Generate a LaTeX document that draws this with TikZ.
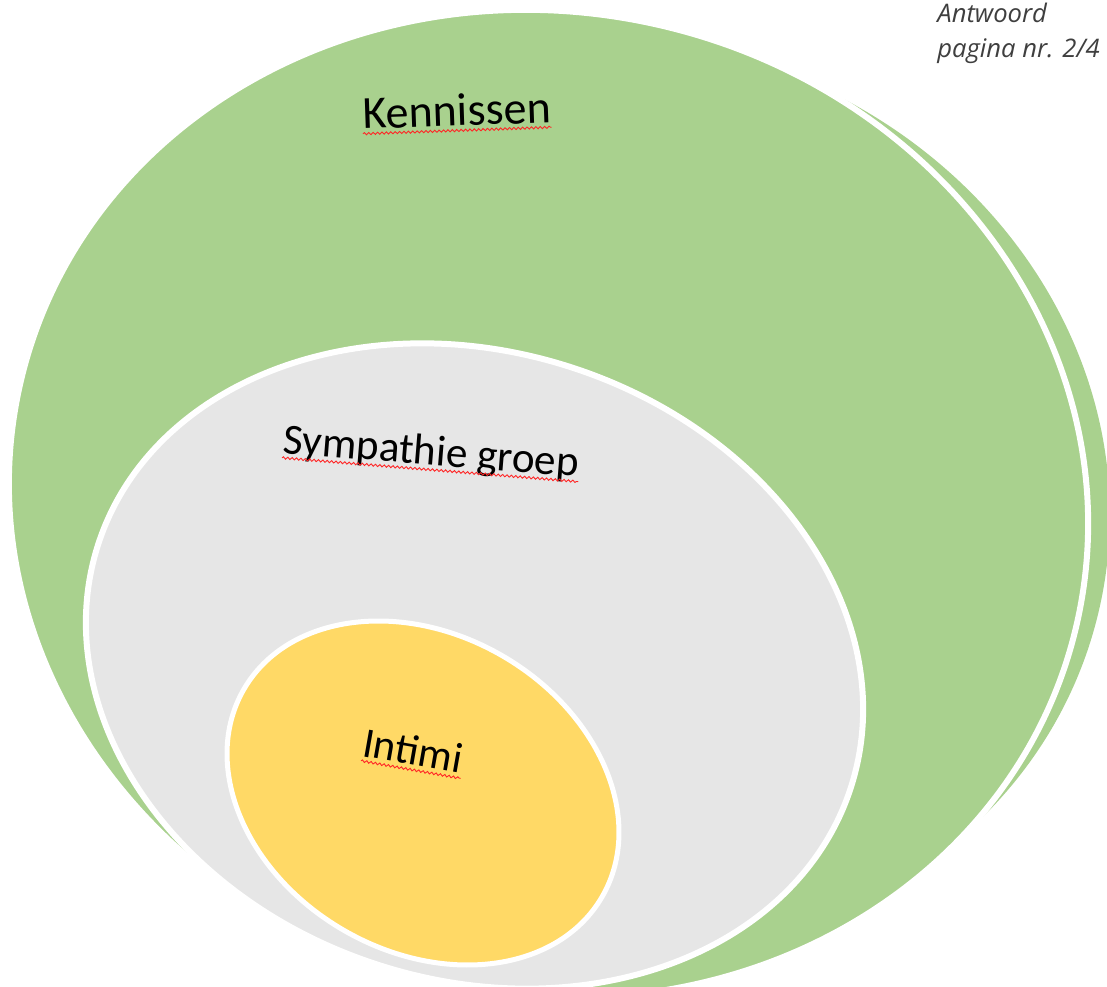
\documentclass[tikz,border=0pt]{standalone}
\usepackage{fontspec}
\setmainfont{Carlito}
\newfontfamily\headfont{Open Sans}
\usetikzlibrary{decorations.pathmorphing}

\definecolor{kengreen}{HTML}{A9D18E}
\definecolor{symgray}{HTML}{E6E6E6}
\definecolor{intyellow}{HTML}{FFD966}
\definecolor{headgray}{HTML}{3F3F3F}

\tikzset{
  ring/.style={draw=white, line width=3pt},
  circletext/.style={font=\fontsize{22}{26}\selectfont, text=black, inner sep=0pt, anchor=base west},
  headtext/.style={font=\headfont\itshape\fontsize{12.8}{15}\selectfont, text=headgray, inner sep=0pt, anchor=base west},
  squiggle/.style={draw=red!85!white, line width=0.45pt, decorate,
    decoration={snake, amplitude=0.55pt, segment length=2.2pt}}
}

\begin{document}
\begin{tikzpicture}[x=0.5pt, y=0.5pt]
  \useasboundingbox (0,0) rectangle (1107,986);

  % Back copy of the outer circle, only its right rim shows
  \fill[kengreen, rotate around={-12.5:(605.6,489.4)}] (605.6,489.4) ellipse [x radius=506.3, y radius=459.2];

  % Kennissen
  \filldraw[fill=kengreen, ring, rotate around={-12.5:(548.5,482.2)}] (548.5,482.2) ellipse [x radius=541.8, y radius=491.4];

  % Sympathie groep
  \filldraw[fill=symgray, ring, rotate around={-17.9:(474.5,320)}] (474.5,320) ellipse [x radius=395.5, y radius=314];

  % Intimi
  \filldraw[fill=intyellow, line width=2.5pt, draw=white, rotate around={-30.1:(423,193)}] (423,193) ellipse [x radius=207, y radius=158.5];

  % Labels
  \node[circletext, font=\fontsize{23}{27}\selectfont, rotate=2] (kennissen) at (363,857) {Kennissen};
  \node[circletext, font=\fontsize{21.6}{26}\selectfont, rotate=-4.6] (sympathie) at (282,533) {Sympathie groep};
  \node[circletext, font=\fontsize{21.3}{26}\selectfont, rotate=-10] (intimi) at (361,230) {Intimi};

  % Spelling marks under the labels
  \draw[squiggle] ([yshift=-2.4pt]kennissen.base west) -- ([yshift=-2.4pt]kennissen.base east);
  \draw[squiggle] ([yshift=-2.4pt]sympathie.base west) -- ([yshift=-2.4pt]sympathie.base east);
  \draw[squiggle] ([yshift=-2.4pt]intimi.base west) -- ([yshift=-2.4pt]intimi.base east);

  % Page note
  \node[headtext] (antwoord) at (937,963) {Antwoord};
  \node[headtext] (pagina) at (937,928) {pagina nr. 2/4};
\end{tikzpicture}
\end{document}
